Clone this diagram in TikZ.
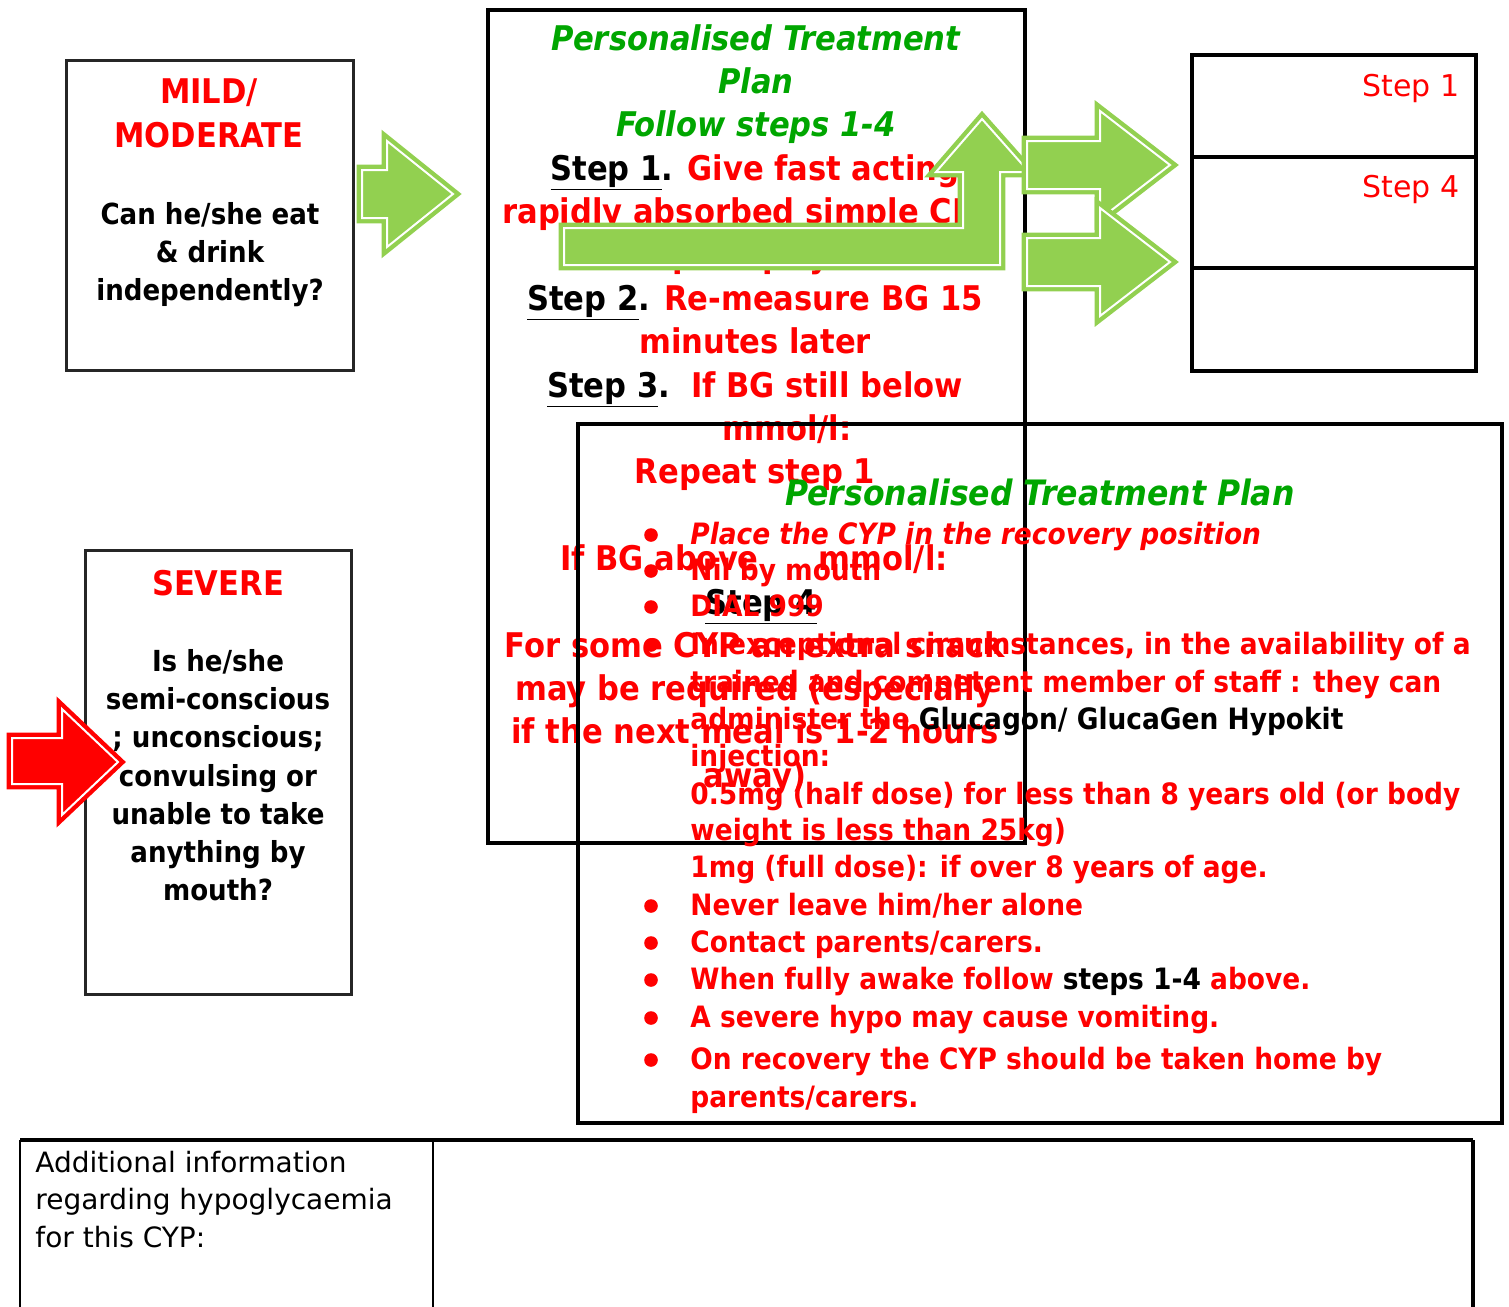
\documentclass[tikz,border=0pt]{standalone}
\usepackage{fontspec}
\setmainfont{DejaVu Sans}
\newfontfamily\condfont{DejaVu Sans Condensed}
\begin{document}
\begin{tikzpicture}[x=0.5pt,y=-0.5pt,
    every node/.style={inner sep=0pt},
    ctxt/.style={anchor=base,font=\condfont\bfseries\fontsize{17}{20}\selectfont},
    ptxt/.style={anchor=base west,font=\condfont\bfseries\fontsize{14.7}{18}\selectfont,text=rred},
    qtxt/.style={anchor=base,font=\condfont\bfseries\fontsize{14.5}{17}\selectfont},
    qhead/.style={anchor=base,font=\condfont\bfseries\fontsize{17}{20}\selectfont,text=rred},
    stxt/.style={anchor=base east,font=\fontsize{15}{18}\selectfont,text=rred},
    atxt/.style={anchor=base west,font=\fontsize{14}{17}\selectfont},
    thinbox/.style={line width=1.5pt,draw=black!85},
    fatbox/.style={line width=2pt},
    blockarr/.style={line width=2.2pt,double=white,double distance=1pt,line join=miter},
    garr/.style={blockarr,draw=agreen,fill=agreen},
    rarr/.style={blockarr,draw=rred,fill=rred}]
    %colores
    \definecolor{agreen}{RGB}{146,208,80}
    \definecolor{pgreen}{RGB}{0,166,0}
    \colorlet{rred}{red}

    \useasboundingbox (0,0) rectangle (1509,1306);

    % caja leve / moderada
    \draw[thinbox] (66,60) rectangle (353,370);
    \node[qhead] (mild1) at (209,103) {MILD/};
    \node[qhead] (mild2) at (209,147) {MODERATE};
    \node[qtxt] (mild3) at (210,224) {Can he/she eat};
    \node[qtxt] (mild4) at (210,262) {\& drink};
    \node[qtxt] (mild5) at (210,300) {independently?};

    % caja grave
    \draw[thinbox] (85,550) rectangle (351,994);
    \node[qhead] (sev0) at (218,595) {SEVERE};
    \foreach \yy/\txt [count=\i] in {671/{Is he/she},709/{semi-conscious},747/{; unconscious;},
        786/{convulsing or},824/{unable to take},862/{anything by},900/{mouth?}}
        \node[qtxt] (sev\i) at (218,\yy) {\txt};

    % plan central, pasos 1-4
    \draw[fatbox] (488,10) rectangle (1025,843);
    \foreach \yy/\xx/\txt [count=\i] in {
        50/756/{\color{pgreen}\itshape Personalised Treatment},
        93/756/{\color{pgreen}\itshape Plan},
        136/756/{\color{pgreen}\itshape Follow steps 1-4},
        180/755/{\underline{Step 1}. \color{rred}Give fast acting},
        223/753/{\color{rred}rapidly absorbed simple CHO},
        267/755/{\color{rred}promptly.},
        310/755/{\underline{Step 2}. \color{rred}Re-measure BG 15},
        353/755/{\color{rred}minutes later},
        397/755/{\underline{Step 3}.\ \ \color{rred}If BG still below},
        440/787/{\color{rred}mmol/l:},
        483/755/{\color{rred}Repeat step 1},
        570/754/{\color{rred}If BG above\hspace{30pt}mmol/l:},
        614/761/{\underline{Step 4}},
        657/755/{\color{rred}For some CYP an extra snack},
        700/755/{\color{rred}may be required (especially},
        743/755/{\color{rred}if the next meal is 1-2 hours},
        787/755/{\color{rred}away)}}
        \node[ctxt] (ctr\i) at (\xx,\yy) {\txt};

    % plan grave
    \draw[fatbox] (578,424) rectangle (1502,1123);
    \node[ctxt,text=pgreen,font=\condfont\bfseries\itshape\fontsize{17.5}{20}\selectfont] (plhead) at (1040,505) {Personalised Treatment Plan};
    \foreach \yy in {535,571,607,645,906,943,980,1018,1060}
        \fill[rred] (651,\yy) circle[radius=3.4pt];
    \foreach \yy/\txt [count=\i] in {
        544/{\itshape Place the CYP in the recovery position},
        580/{Nil by mouth},
        616/{DIAL 999},
        654/{In exceptional circumstances, in the availability of a},
        692/{trained and competent member of staff : they can},
        729/{administer the \textcolor{black}{Glucagon/ GlucaGen Hypokit}},
        766/{injection:},
        804/{0.5mg (half dose) for less than 8 years old (or body},
        840/{weight is less than 25kg)},
        877/{1mg (full dose): if over 8 years of age.},
        915/{Never leave him/her alone},
        952/{Contact parents/carers.},
        989/{When fully awake follow \textcolor{black}{steps 1-4} above.},
        1027/{A severe hypo may cause vomiting.},
        1069/{On recovery the CYP should be taken home by},
        1107/{parents/carers.}}
        \node[ptxt] (pl\i) at (690,\yy) {\txt};

    % tabla de pasos
    \draw[fatbox] (1192,55) rectangle (1476,371);
    \draw[fatbox] (1192,157) -- (1476,157) (1192,268) -- (1476,268);
    \node[stxt] (tab1) at (1460,96) {Step 1};
    \node[stxt] (tab4) at (1460,197) {Step 4};

    % flechas verdes
    \draw[garr] (362,170) -- (387,170) -- (387,141) -- (453,194) -- (387,247) -- (387,218) -- (362,218) -- cycle;
    \draw[garr] (564,228) -- (963,228) -- (963,172) -- (936,172) -- (982,119) -- (1029,172) -- (1000,172)
        -- (1000,265) -- (564,265) -- cycle;
    \foreach \yy in {165,262}
        \draw[garr] (1027,\yy-24) -- (1100,\yy-24) -- (1100,\yy-54) -- (1170,\yy) -- (1100,\yy+54)
            -- (1100,\yy+24) -- (1027,\yy+24) -- cycle;
    % flecha roja
    \draw[rred,rarr] (12,738) -- (62,738) -- (62,709) -- (118,762) -- (62,815) -- (62,784) -- (12,784) -- cycle;

    % informacion adicional
    \draw[fatbox] (20,1140) -- (1473,1140);
    \draw[line width=1.2pt] (20,1140) -- (20,1310) (433,1140) -- (433,1310);
    \draw[line width=1.6pt] (1473,1140) -- (1473,1310);
    \node[atxt] (add1) at (35,1172) {Additional information};
    \node[atxt] (add2) at (35,1209) {regarding hypoglycaemia};
    \node[atxt] (add3) at (35,1247) {for this CYP:};
\end{tikzpicture}
\end{document}
